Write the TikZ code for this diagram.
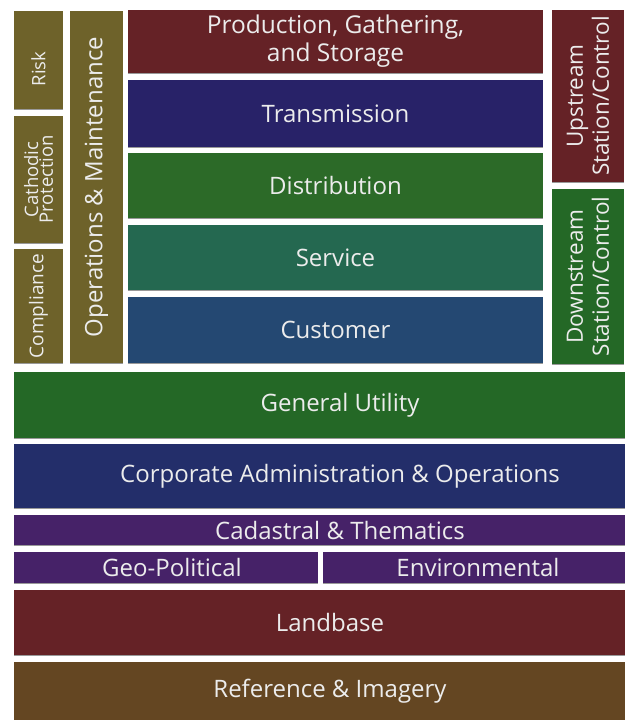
\documentclass[tikz,border=0pt]{standalone}
\usepackage{fontspec}
\setmainfont{Open Sans}
\usepackage{tikz}
\definecolor{olivebx}{RGB}{110,98,42}
\definecolor{maroonbx}{RGB}{101,34,38}
\definecolor{indigobx}{RGB}{40,34,104}
\definecolor{greenbx}{RGB}{44,106,40}
\definecolor{tealbx}{RGB}{36,104,80}
\definecolor{bluebx}{RGB}{36,72,114}
\definecolor{utilgreen}{RGB}{36,104,38}
\definecolor{navybx}{RGB}{35,46,106}
\definecolor{purplebx}{RGB}{70,34,104}
\definecolor{brownbx}{RGB}{100,70,34}
\definecolor{txtw}{RGB}{236,236,236}
\tikzset{
  lyr/.style={fill=#1,text=txtw,inner sep=0pt,align=center,
              font=\fontsize{24}{28}\selectfont},
  sz/.style 2 args={minimum width=#1pt,minimum height=#2pt},
  vlyr/.style={lyr=#1,rotate=90},
  shd/.style={line width=1.2pt,draw=black,draw opacity=0.4},
}

\begin{document}
\begin{tikzpicture}[x=1pt,y=-1pt]
  \useasboundingbox[fill=white] (0,0) rectangle (624,720);

  % left side columns
  \node[vlyr=olivebx,sz={98}{49},font=\fontsize{18.5}{20}\selectfont]
    (risk) at (38.5,60) {Risk\hspace*{18pt}};
  \node[vlyr=olivebx,sz={127}{49},font=\fontsize{18.5}{13}\selectfont]
    (cath) at (38.5,179.5) {Cathodic\\Protection};
  \node[vlyr=olivebx,sz={114}{49},font=\fontsize{19}{20}\selectfont]
    (compl) at (38.5,306) {Compliance};
  \node[vlyr=olivebx,sz={352}{53},font=\fontsize{24}{26}\selectfont]
    (opsm) at (96.5,187) {Operations \& Maintenance};

  % network stack
  \node[lyr=maroonbx,sz={415}{63},font=\fontsize{24.5}{28}\selectfont]
    (prod) at (335.5,41.5) {Production, Gathering,\\and Storage};
  \node[lyr=indigobx,sz={415}{67}] (trans) at (335.5,113.5) {Transmission};
  \node[lyr=greenbx,sz={415}{65}]  (dist)  at (335.5,185.5) {Distribution};
  \node[lyr=tealbx,sz={415}{65}]   (serv)  at (335.5,257.5) {Service};
  \node[lyr=bluebx,sz={415}{66}]   (cust)  at (335.5,330)   {Customer};

  % right side columns
  \node[vlyr=maroonbx,sz={172}{72},font=\fontsize{22.5}{26}\selectfont]
    (upst) at (588,96) {Upstream\\Station/Control};
  \node[vlyr=utilgreen,sz={175}{72},font=\fontsize{22.5}{26}\selectfont]
    (dnst) at (588,276.5) {Downstream\\Station/Control};

  % full width layers (they run on past the right margin)
  \node[lyr=utilgreen,sz={652}{66}] (genu) at (340,405) {General Utility};
  \node[lyr=navybx,sz={652}{64}]    (corp) at (340,476) {Corporate Administration \& Operations};
  \node[lyr=purplebx,sz={652}{30}]  (cada) at (340,530) {Cadastral \& Thematics};
  \node[lyr=purplebx,sz={304}{31}]  (geop) at (166,567.5) {\hspace*{12pt}Geo-Political};
  \node[lyr=purplebx,sz={310}{31}]  (envr) at (478,567.5) {Environmental};
  \node[lyr=maroonbx,sz={632}{65}]  (land) at (330,622.5) {Landbase};
  \node[lyr=brownbx,sz={632}{58}]   (refi) at (330,691) {Reference \& Imagery};

  % dark lower edge under every block
  \foreach \n in {prod,trans,dist,serv,cust,genu,corp,cada,geop,envr,land}
    \draw[shd] (\n.south west) -- (\n.south east);
  \foreach \n in {risk,cath,compl,opsm,upst,dnst}
    \draw[shd] (\n.south west) -- (\n.north west);
\end{tikzpicture}
\end{document}
